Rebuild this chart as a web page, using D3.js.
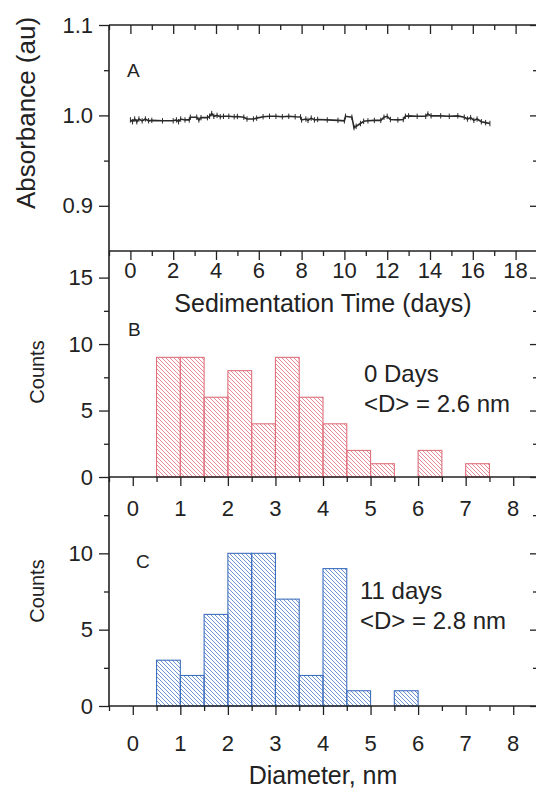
<!DOCTYPE html>
<html>
<head>
<meta charset="utf-8">
<script src="https://cdn.jsdelivr.net/npm/d3@7"></script>
<style>
  body { margin: 0; background: #fff; }
  svg text { font-family: "Liberation Sans", Arial, sans-serif; fill: #222; }
</style>
</head>
<body>
<div id="chart"></div>
<script>
// Panel A: absorbance vs sedimentation time
const timeDays = [0.00, 0.10, 0.20, 0.30, 0.40, 0.55, 0.70, 0.85, 1.00, 1.50, 2.00, 2.15, 2.25, 2.35, 2.55,
  2.75, 2.80, 3.10, 3.20, 3.30, 3.60, 3.70, 3.80, 3.90, 4.05, 4.20, 4.35, 4.60, 4.85, 5.00, 5.30, 5.45,
  5.75, 5.90, 6.20, 6.50, 6.80, 7.10, 7.40, 7.70, 7.95, 8.00, 8.20, 8.30, 8.45, 8.60, 8.75, 9.20, 9.70,
  10.00, 10.05, 10.35, 10.45, 10.55, 10.75, 10.90, 11.10, 11.40, 11.70, 11.85, 12.00, 12.15, 12.50,
  12.75, 12.85, 13.00, 13.40, 13.80, 13.90, 14.05, 14.50, 14.90, 15.30, 15.60, 15.75, 15.90, 16.05,
  16.20, 16.40, 16.60, 16.80];
const absorbance = [0.995, 0.993, 0.996, 0.993, 0.996, 0.994, 0.996, 0.994, 0.9945, 0.994, 0.994, 0.995,
  0.993, 0.996, 0.995, 0.995, 0.998, 0.998, 0.995, 0.9975, 0.9975, 0.999, 1.002, 0.999, 1.000, 0.9985,
  0.999, 0.999, 0.9985, 0.9988, 0.998, 0.996, 0.996, 0.997, 0.9985, 0.999, 0.999, 0.9985, 0.999, 0.9985,
  0.9983, 0.995, 0.996, 0.9945, 0.997, 0.995, 0.9955, 0.995, 0.9945, 0.994, 0.999, 0.998, 0.9865, 0.988,
  0.991, 0.9935, 0.994, 0.9945, 0.9945, 0.998, 0.999, 0.9955, 0.995, 0.9955, 0.999, 0.9995, 0.999, 0.999,
  1.0015, 0.9995, 0.9995, 0.999, 0.9995, 0.998, 0.996, 0.9975, 0.9945, 0.996, 0.993, 0.992, 0.991];

// Panels B and C: diameter histograms, bins 0.5 nm wide
const binStart = [0.5, 1.0, 1.5, 2.0, 2.5, 3.0, 3.5, 4.0, 4.5, 5.0, 5.5, 6.0, 6.5, 7.0];
const countsDay0 = [9, 9, 6, 8, 4, 9, 6, 4, 2, 1, 0, 2, 0, 1];
const countsDay11 = [3, 2, 6, 10, 10, 7, 2, 9, 1, 0, 1, 0, 0, 0];
const binWidth = 0.5;

const dayTicks = [0, 2, 4, 6, 8, 10, 12, 14, 16, 18];
const diamTicks = [0, 1, 2, 3, 4, 5, 6, 7, 8];

const width = 536, height = 790;
const xL = 109, xR = 537;

const svg = d3.select("#chart").append("svg")
  .attr("width", width)
  .attr("height", height);

const ink = "#222";

// scales
const xDays = d3.scaleLinear().domain([-1, 19]).range([xL, xR]);
const xDiam = d3.scaleLinear().domain([-0.5, 8.5]).range([xL, xR]);
const yA = d3.scaleLinear().domain([0.85, 1.1]).range([251, 25]);
const yB = d3.scaleLinear().domain([0, 17]).range([477, 251]);
const yC = d3.scaleLinear().domain([0, 15]).range([706, 477]);

// hatch patterns
const defs = svg.append("defs");
function hatch(id, color) {
  const p = defs.append("pattern")
    .attr("id", id)
    .attr("patternUnits", "userSpaceOnUse")
    .attr("width", 4).attr("height", 4);
  p.append("path")
    .attr("d", "M-1,-1 L5,5 M-1,3 L1,5 M3,-1 L5,1")
    .attr("stroke", color)
    .attr("stroke-width", 0.8);
}
hatch("hatchRed", "#e0707c");
hatch("hatchBlue", "#4a78c4");

// draw a y axis pair (left outward, right inward), major+minor
function yAxes(y, major, minor, labels) {
  const g = svg.append("g");
  g.append("g").attr("transform", `translate(${xL},0)`)
    .call(d3.axisLeft(y).tickValues(major).tickSize(10).tickFormat(labels ? d => labels(d) : ""))
    .call(a => a.select(".domain").remove());
  g.append("g").attr("transform", `translate(${xL},0)`)
    .call(d3.axisLeft(y).tickValues(minor).tickSize(5).tickFormat(""))
    .call(a => a.select(".domain").remove());
  g.append("g").attr("transform", `translate(${xR},0)`)
    .call(d3.axisRight(y).tickValues(major).tickSize(-7).tickFormat(""))
    .call(a => a.select(".domain").remove());
  g.append("g").attr("transform", `translate(${xR},0)`)
    .call(d3.axisRight(y).tickValues(minor).tickSize(-4).tickFormat(""))
    .call(a => a.select(".domain").remove());
  g.selectAll("line").attr("stroke", ink).attr("stroke-width", 1.3);
  g.selectAll("text").attr("font-size", 22).attr("x", -16).attr("fill", ink)
    .style("font-family", '"Liberation Sans", Arial, sans-serif');
}

// x axis ticks hanging down from a horizontal line
function xTicks(x, yPos, major, minor, labelY, inward) {
  const g = svg.append("g").attr("transform", `translate(0,${yPos})`);
  g.append("g").call(d3.axisBottom(x).tickValues(major).tickSize(9).tickFormat(""))
    .call(a => a.select(".domain").remove());
  g.append("g").call(d3.axisBottom(x).tickValues(minor).tickSize(5).tickFormat(""))
    .call(a => a.select(".domain").remove());
  g.selectAll("line").attr("stroke", ink).attr("stroke-width", 1.3);
  if (labelY != null) {
    g.selectAll(null).data(major).join("text")
      .attr("x", d => x(d)).attr("y", labelY - yPos)
      .attr("text-anchor", "middle").attr("font-size", 22)
      .text(d => d);
  }
}

// ---------- Panel A ----------
const dayMinor = d3.range(-1, 20, 2);
yAxes(yA, [0.9, 1.0, 1.1], [0.95, 1.05], d => d.toFixed(1));
xTicks(xDays, 25, dayTicks, dayMinor, null);
xTicks(xDays, 251, dayTicks, dayMinor, 278);

const trace = timeDays.map((t, i) => [t, absorbance[i]]);
svg.append("path")
  .datum(trace)
  .attr("fill", "none")
  .attr("stroke", "#2a2a2a")
  .attr("stroke-width", 1.6)
  .attr("d", d3.line().x(d => xDays(d[0])).y(d => yA(d[1])));
// small error marks on the trace
svg.append("g").selectAll("line").data(trace).join("line")
  .attr("x1", d => xDays(d[0])).attr("x2", d => xDays(d[0]))
  .attr("y1", d => yA(d[1] + 0.003)).attr("y2", d => yA(d[1] - 0.003))
  .attr("stroke", "#2a2a2a").attr("stroke-width", 1);

svg.append("text").attr("x", 127).attr("y", 77).attr("font-size", 19).text("A");
svg.append("text").attr("x", 323).attr("y", 312).attr("text-anchor", "middle")
  .attr("font-size", 25).text("Sedimentation Time (days)");
svg.append("text").attr("transform", "translate(35,113) rotate(-90)")
  .attr("text-anchor", "middle").attr("font-size", 26).text("Absorbance (au)");

// ---------- Histograms ----------
const diamMinor = d3.range(-0.5, 9, 1);
function histogram(y, counts, fill, stroke) {
  svg.append("g").selectAll("rect")
    .data(binStart.map((b, i) => ({ b, c: counts[i] })).filter(d => d.c > 0))
    .join("rect")
    .attr("x", d => xDiam(d.b))
    .attr("width", d => xDiam(d.b + binWidth) - xDiam(d.b))
    .attr("y", d => y(d.c))
    .attr("height", d => y(0) - y(d.c))
    .attr("fill", `url(#${fill})`)
    .attr("stroke", stroke)
    .attr("stroke-width", 1.1);
}

// Panel B
histogram(yB, countsDay0, "hatchRed", "#e0707c");
yAxes(yB, [0, 5, 10, 15], [2.5, 7.5, 12.5], d => d);
xTicks(xDiam, 477, diamTicks, diamMinor, 516);
svg.append("text").attr("x", 128).attr("y", 336).attr("font-size", 19).text("B");
svg.append("text").attr("x", 364).attr("y", 382).attr("font-size", 24).text("0 Days");
svg.append("text").attr("x", 364).attr("y", 412).attr("font-size", 24).text("<D> = 2.6 nm");
svg.append("text").attr("transform", "translate(44,372) rotate(-90)")
  .attr("text-anchor", "middle").attr("font-size", 20).text("Counts");

// Panel C
histogram(yC, countsDay11, "hatchBlue", "#3f6fbf");
yAxes(yC, [0, 5, 10], [2.5, 7.5, 12.5], d => d);
xTicks(xDiam, 706, diamTicks, diamMinor, 751);
svg.append("text").attr("x", 136).attr("y", 568).attr("font-size", 19).text("C");
svg.append("text").attr("x", 360).attr("y", 599).attr("font-size", 24).text("11 days");
svg.append("text").attr("x", 360).attr("y", 629).attr("font-size", 24).text("<D> = 2.8 nm");
svg.append("text").attr("transform", "translate(44,591) rotate(-90)")
  .attr("text-anchor", "middle").attr("font-size", 20).text("Counts");
svg.append("text").attr("x", 323).attr("y", 784).attr("text-anchor", "middle")
  .attr("font-size", 25).text("Diameter, nm");

// frame lines
const frame = svg.append("g").attr("stroke", ink).attr("stroke-width", 1.6);
[25, 251, 477, 706].forEach(y => frame.append("line")
  .attr("x1", xL).attr("x2", xR).attr("y1", y).attr("y2", y));
[xL, xR].forEach(x => frame.append("line")
  .attr("x1", x).attr("x2", x).attr("y1", 25).attr("y2", 706));
</script>
</body>
</html>
